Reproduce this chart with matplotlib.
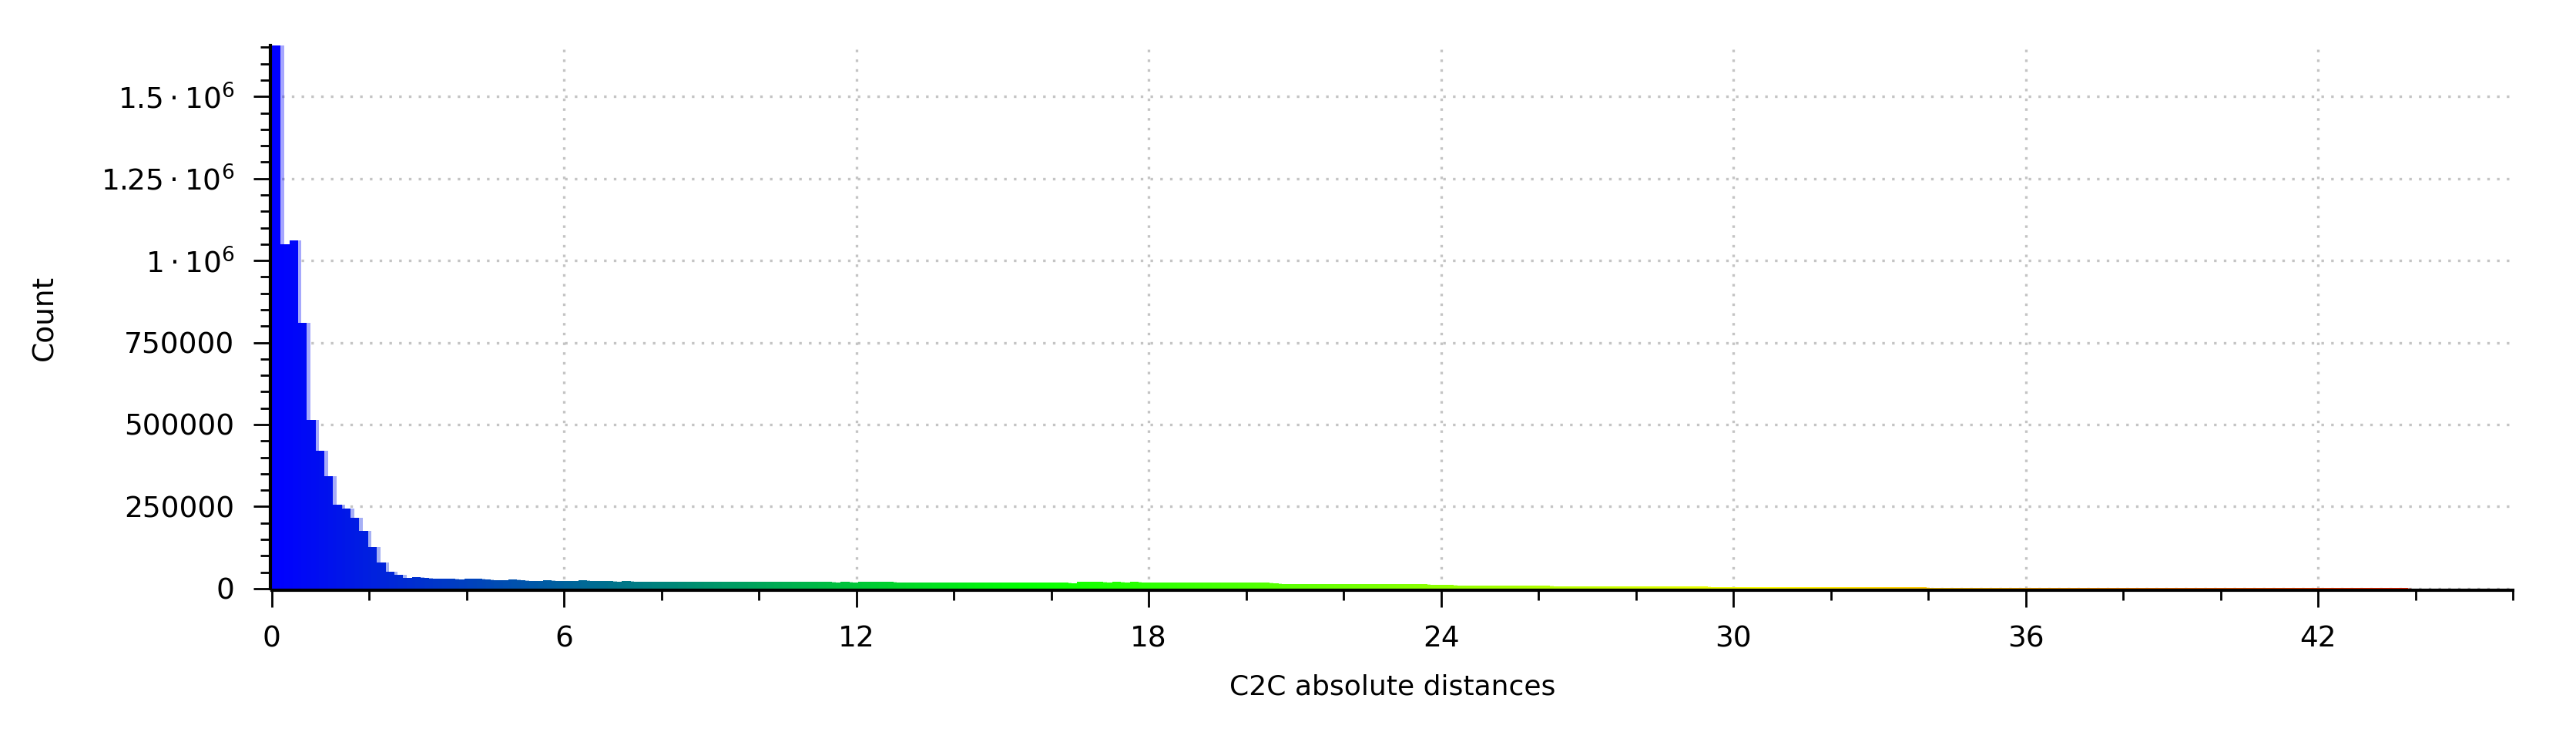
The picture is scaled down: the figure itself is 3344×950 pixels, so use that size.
import numpy as np
import matplotlib.pyplot as plt
from matplotlib.colors import LinearSegmentedColormap
from matplotlib.ticker import MultipleLocator, FuncFormatter

# C2C distance histogram (256 classes between 0 and 46)
x_min, x_max = 0.0, 46.0
n_bins = 256

counts_peak = [1720000, 1050000, 1062000, 811000, 515000, 419000, 342000, 255000,
               244000, 216000, 176000, 126000, 80000, 52000, 42000, 33000]
counts_3_6 = [34000, 32000, 30000, 31000, 29000, 28000, 30000, 29000, 27000,
              26000, 25000, 27000, 26000, 24000, 23000, 25000, 23000, 22000]
counts_6_12 = [23000, 25000, 24000, 22000, 22000, 21500, 22000, 21500, 21000, 21500,
               21000, 21000, 20800, 21000, 20500, 20800, 20500, 20500, 20200, 20500,
               20000, 20200, 20000, 20000, 19800, 20000, 19600, 19800, 19500, 19600,
               19400, 19500, 19200]
counts_12_18 = [20500, 21000, 20800, 20600, 19000, 18800, 19000, 18600, 18800, 18500,
                18400, 18500, 18200, 18300, 18000, 18100, 17800, 17900, 17600, 17700,
                17400, 17500, 17200, 17300, 17000, 19500, 19800, 19600, 19400, 19700,
                19300, 19500, 19200, 19400]
counts_18_24 = [19000, 19300, 18800, 19100, 18700, 18900, 18500, 18700, 18300, 18400,
                18100, 18000, 17800, 15000, 14800, 14600, 14500, 14300, 14200, 14000,
                13900, 13700, 13600, 13500, 13300, 13200, 13000, 12900, 12800, 12600,
                12500, 12400, 12300, 12200]
counts_24_30 = [9000, 8800, 8900, 8600, 8500, 8300, 8400, 8100, 8000, 7800,
                7900, 7600, 7500, 7300, 7400, 7100, 7000, 6800, 6900, 6600,
                6500, 6300, 6400, 6100, 6000, 5800, 5900, 5600, 5500, 5300,
                5400, 5100, 5000]
counts_30_36 = [4700, 4600, 4500, 4400, 4400, 4300, 4200, 4100, 4000, 3900,
                3900, 3800, 3700, 3600, 3600, 3500, 3400, 3300, 3300, 3200,
                3100, 3000, 3000, 2900, 2800, 2800, 2700, 2600, 2600, 2500,
                2400, 2400, 2300]
counts_36_42 = [2200, 2200, 2100, 2100, 2000, 2000, 1950, 1900, 1900, 1850,
                1800, 1800, 1750, 1700, 1700, 1650, 1600, 1600, 1550, 1500,
                1500, 1450, 1400, 1400, 1350, 1300, 1300, 1250, 1200, 1200,
                1150, 1100, 1100, 1050]
counts_42_46 = [1000, 1000, 950, 900, 900, 850, 800, 800, 750, 700,
                700, 650, 600, 550, 500, 450, 400, 350, 300, 0, 0]

counts = np.array(counts_peak + counts_3_6 + counts_6_12 + counts_12_18 + counts_18_24
                  + counts_24_30 + counts_30_36 + counts_36_42 + counts_42_46)

edges = np.linspace(x_min, x_max, n_bins + 1)
bin_w = edges[1] - edges[0]
centers = edges[:-1] + bin_w / 2

# Blue > Green > Yellow > Red colour scale
cmap = LinearSegmentedColormap.from_list("bgyr", ["#0000ff", "#00ff00", "#ffff00", "#ff0000"])
colors = cmap(centers / x_max)

fig = plt.figure(figsize=(33.44, 9.5), dpi=100)
ax = fig.add_axes([0.1055, 0.196, 0.870, 0.742])

ax.bar(edges[:-1], counts, width=bin_w, align="edge", color=colors, linewidth=0, zorder=2)
ax.bar(edges[:-1] + 0.4 * bin_w, counts, width=bin_w, align="edge", color=colors,
       alpha=0.35, linewidth=0, zorder=2)

ax.set_xlim(x_min, x_max)
ax.set_ylim(0, 1.656e6)

ax.xaxis.set_major_locator(MultipleLocator(6))
ax.xaxis.set_minor_locator(MultipleLocator(2))
ax.yaxis.set_major_locator(MultipleLocator(250000))
ax.yaxis.set_minor_locator(MultipleLocator(50000))


def count_fmt(v, pos):
    if v >= 1e6:
        return r"$%g\cdot10^{6}$" % (v / 1e6)
    return "%d" % v


ax.yaxis.set_major_formatter(FuncFormatter(count_fmt))

for side in ["top", "right"]:
    ax.spines[side].set_visible(False)
for side in ["left", "bottom"]:
    ax.spines[side].set_linewidth(3)
    # keep the axis line just outside the bars, as in the original
    ax.spines[side].set_position(("outward", 1.5))

ax.tick_params(which="major", length=15.5, width=2, labelsize=27, color="black")
ax.tick_params(which="minor", length=9.5, width=2)
ax.tick_params(axis="x", which="major", pad=17)
ax.tick_params(axis="y", which="major", pad=18)

ax.grid(which="major", color="#c4c4c4", linestyle=(0, (1, 2.8)), linewidth=2.4)
ax.set_axisbelow(True)

fig.text(58 / 3344, 1 - 412 / 950, "Count", rotation=90, ha="center", va="center", fontsize=27)
fig.text(1808 / 3344, 1 - 892 / 950, "C2C absolute distances", ha="center", va="center",
         fontsize=26)

fig.savefig("out.png", dpi=100)
